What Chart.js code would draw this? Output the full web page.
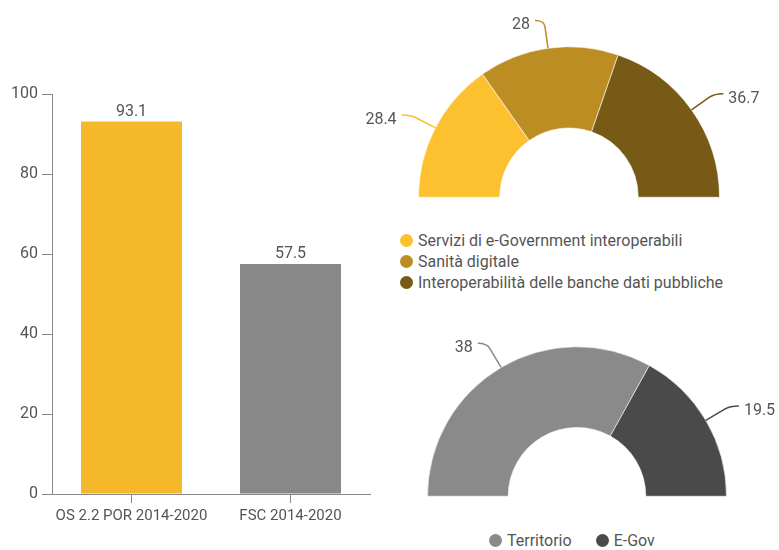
<!DOCTYPE html>
<html>
<head>
<meta charset="utf-8">
<script src="https://cdn.jsdelivr.net/npm/chart.js@4"></script>
<style>
  html, body { margin: 0; padding: 0; background: #fff; }
  body { width: 779px; height: 550px; position: relative; overflow: hidden; font-family: Roboto, sans-serif; }
  canvas { position: absolute; }
  .legend { position: absolute; font: 16px Roboto, sans-serif; color: #555; }
  .legend .item { position: relative; padding-left: 18px; height: 21px; line-height: 21px; white-space: nowrap; }
  .legend .dot { position: absolute; left: 0; top: 4px; width: 13px; height: 13px; border-radius: 50%; }
  .legend.row .item { display: inline-block; margin-right: 24px; }
</style>
</head>
<body>
<canvas id="bar" width="380" height="550" style="left:0;top:0"></canvas>
<canvas id="d1" width="439" height="210" style="left:340px;top:0"></canvas>
<canvas id="d2" width="439" height="210" style="left:340px;top:300px"></canvas>
<div id="leg1" class="legend" style="left:400px;top:230px"></div>
<div id="leg2" class="legend row" style="left:489px;top:530px"></div>
<script>
// ---- data ----
const barCategories = ['OS 2.2 POR 2014-2020', 'FSC 2014-2020'];
const barValues = [93.1, 57.5];
const barColors = ['#F5B82B', '#888888'];
const yTicks = [0, 20, 40, 60, 80, 100];

const topLabels = ['Servizi di e-Government interoperabili', 'Sanità digitale', 'Interoperabilità delle banche dati pubbliche'];
const topValues = [28.4, 28, 36.7];
const topColors = ['#FDC02F', '#BC8D23', '#785A17'];

const bottomLabels = ['Territorio', 'E-Gov'];
const bottomValues = [38, 19.5];
const bottomColors = ['#8A8A8A', '#4A4A4A'];

const FONT = 'Roboto, sans-serif';
const TXT = '#555555';
Chart.defaults.font.family = FONT;
Chart.defaults.font.size = 16;
Chart.defaults.color = TXT;
Chart.defaults.animation = false;

// bar value labels
const barLabelPlugin = {
  id: 'barLabels',
  afterDatasetsDraw(chart) {
    const ctx = chart.ctx;
    const meta = chart.getDatasetMeta(0);
    ctx.save();
    ctx.font = '16px ' + FONT;
    ctx.fillStyle = TXT;
    ctx.textAlign = 'center';
    ctx.textBaseline = 'middle';
    meta.data.forEach((el, i) => {
      ctx.fillText(String(chart.data.datasets[0].data[i]), el.x, el.y - 10);
    });
    ctx.restore();
  }
};

// doughnut callout labels
const calloutPlugin = {
  id: 'callouts',
  afterDatasetsDraw(chart) {
    const ctx = chart.ctx;
    const meta = chart.getDatasetMeta(0);
    const ds = chart.data.datasets[0];
    ctx.save();
    ctx.font = '16px ' + FONT;
    ctx.lineWidth = 1.5;
    meta.data.forEach((el, i) => {
      const p = el.getProps(['x', 'y', 'startAngle', 'endAngle', 'outerRadius'], true);
      const mid = (p.startAngle + p.endAngle) / 2;
      const c = Math.cos(mid), s = Math.sin(mid);
      const L1 = 28, L2 = 9;
      const x0 = p.x + c * p.outerRadius, y0 = p.y + s * p.outerRadius;
      const x1 = x0 + c * L1, y1 = y0 + s * L1;
      const dir = c >= 0 ? 1 : -1;
      const x2 = x1 + dir * L2, y2 = y1;
      const xa = x0 + c * (L1 - 6), ya = y0 + s * (L1 - 6);
      ctx.strokeStyle = ds.backgroundColor[i];
      ctx.beginPath();
      ctx.moveTo(x0, y0);
      ctx.lineTo(xa, ya);
      ctx.quadraticCurveTo(x1, y1, x2, y2);
      ctx.stroke();
      ctx.fillStyle = TXT;
      ctx.textAlign = dir > 0 ? 'left' : 'right';
      ctx.textBaseline = 'middle';
      ctx.fillText(String(ds.data[i]), x2 + dir * 5, y2 + 5);
    });
    ctx.restore();
  }
};

new Chart(document.getElementById('bar'), {
  type: 'bar',
  data: {
    labels: barCategories,
    datasets: [{ data: barValues, backgroundColor: barColors, borderWidth: 0, categoryPercentage: 1, barPercentage: 0.635 }]
  },
  options: {
    responsive: false,
    layout: { padding: { left: 0, top: 94, right: 10, bottom: 0 } },
    plugins: { legend: { display: false }, tooltip: { enabled: false } },
    scales: {
      x: {
        grid: { display: true, drawOnChartArea: false, drawTicks: true, tickLength: 9, offset: false, color: '#888' },
        border: { display: true, color: '#888', width: 1 },
        ticks: { padding: 4, color: TXT, font: { size: 15 } },
        afterFit(s) { s.height = 56; }
      },
      y: {
        min: 0, max: 100,
        afterBuildTicks(s) { s.ticks = yTicks.map(v => ({ value: v })); },
        grid: { display: true, drawOnChartArea: false, drawTicks: true, tickLength: 10, color: '#888' },
        border: { display: true, color: '#888', width: 1 },
        ticks: { padding: 4, color: TXT, font: { size: 16 } },
        afterFit(s) { s.width = 52; }
      }
    }
  },
  plugins: [barLabelPlugin]
});

function halfDoughnut(id, labels, values, colors, pad) {
  return new Chart(document.getElementById(id), {
    type: 'doughnut',
    data: { labels, datasets: [{ data: values, backgroundColor: colors, borderColor: 'rgba(255,255,255,0.6)', borderWidth: 1 }] },
    options: {
      responsive: false,
      rotation: -90,
      circumference: 180,
      cutout: '46%',
      layout: { padding: pad },
      plugins: { legend: { display: false }, tooltip: { enabled: false } }
    },
    plugins: [calloutPlugin]
  });
}
halfDoughnut('d1', topLabels, topValues, topColors, { left: 78, right: 59, top: 46, bottom: 12 });
halfDoughnut('d2', bottomLabels, bottomValues, bottomColors, { left: 87, right: 52, top: 46, bottom: 13 });

function buildLegend(elId, labels, colors) {
  const el = document.getElementById(elId);
  labels.forEach((l, i) => {
    const it = document.createElement('div');
    it.className = 'item';
    const d = document.createElement('span');
    d.className = 'dot';
    d.style.background = colors[i];
    it.appendChild(d);
    it.appendChild(document.createTextNode(l));
    el.appendChild(it);
  });
}
buildLegend('leg1', topLabels, topColors);
buildLegend('leg2', bottomLabels, bottomColors);
</script>
</body>
</html>
